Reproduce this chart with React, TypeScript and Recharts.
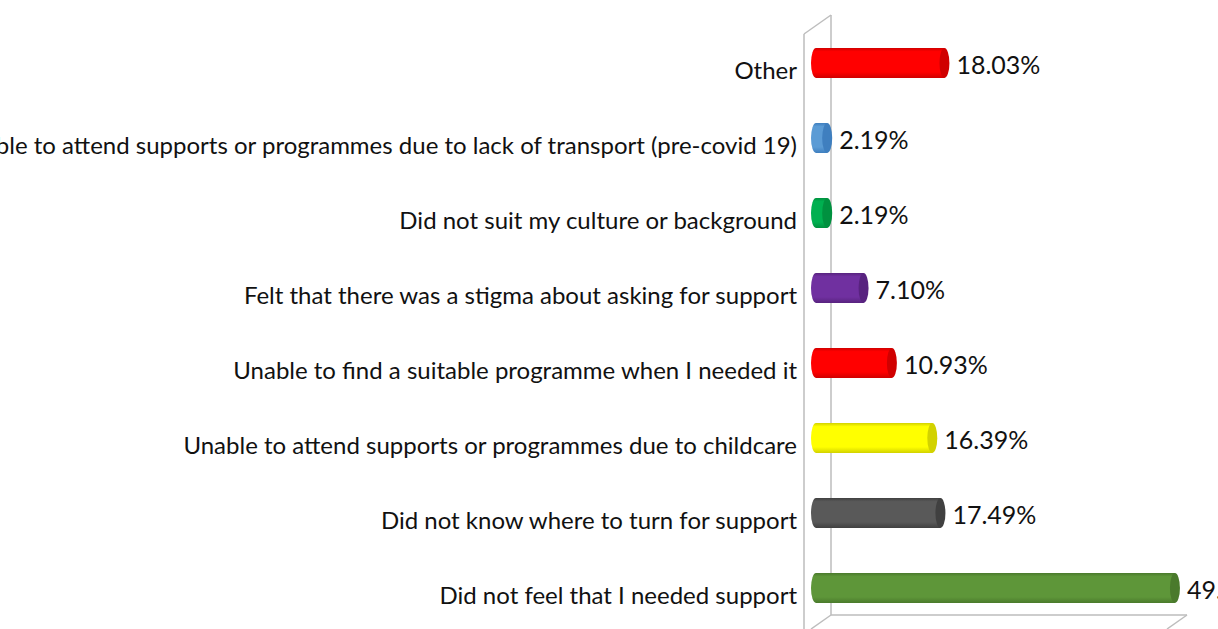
import React from 'react';
import { BarChart, Bar, XAxis, YAxis, Cell, LabelList } from 'recharts';

// Reasons (top to bottom) and share of respondents
const CATEGORIES = [
  'Other',
  'Unable to attend supports or programmes due to lack of transport (pre-covid 19)',
  'Did not suit my culture or background',
  'Felt that there was a stigma about asking for support',
  'Unable to find a suitable programme when I needed it',
  'Unable to attend supports or programmes due to childcare',
  'Did not know where to turn for support',
  'Did not feel that I needed support',
];
const VALUES = [18.03, 2.19, 2.19, 7.1, 10.93, 16.39, 17.49, 49.18];

// Colours for each bar (body and the darker end cap)
const COLORS = ['#ff0000', '#5b9bd5', '#00b050', '#7030a0', '#ff0000', '#ffff00', '#595959', '#5e9639'];
const CAP_COLORS = ['#d00000', '#3f7fbf', '#00913f', '#58237f', '#d00000', '#d2d200', '#404040', '#4a7a2c'];

const data = CATEGORIES.map((category, i) => ({ category, value: VALUES[i] }));

const W = 1218;
const H = 629;
const AXIS_W = 811;
const FONT = 'Lato, "Open Sans", sans-serif';

const Cylinder = (props: any) => {
  const { x, y, width, height, index } = props;
  if (width == null || height == null) return null;
  const rx = 5;
  const cy = y + height / 2;
  const right = x + width;
  const d = `M${x + rx},${y} L${right},${y} L${right},${y + height} L${x + rx},${y + height} A${rx},${height / 2} 0 0 1 ${x + rx},${y} Z`;
  return (
    <g>
      <path d={d} fill={`url(#cyl-${index})`} />
      <ellipse cx={right} cy={cy} rx={rx} ry={height / 2} fill={CAP_COLORS[index]} />
    </g>
  );
};

const CategoryTick = (props: any) => {
  const { y, payload } = props;
  return (
    <text x={AXIS_W - 14} y={y + 7} textAnchor="end" dominantBaseline="central" fontSize={24} fill="#111" fontFamily={FONT}>
      {payload.value}
    </text>
  );
};

const ValueLabel = (props: any) => {
  const { x, y, width, height, value } = props;
  return (
    <text x={x + width + 12} y={y + height / 2 + 1} dominantBaseline="central" fontSize={25} fill="#111" fontFamily={FONT}>
      {`${Number(value).toFixed(2)}%`}
    </text>
  );
};

// 3D wall / floor outline drawn behind the bars
const Frame = () => (
  <svg width={W} height={H} style={{ position: 'absolute', left: 0, top: 0 }}>
    <g stroke="#bdbdbd" strokeWidth={1.5} fill="none">
      <line x1={804} y1={34} x2={804} y2={H} />
      <line x1={804} y1={34} x2={831} y2={15} />
      <line x1={831} y1={15} x2={831} y2={615} />
      <line x1={831} y1={615} x2={1187} y2={615} />
      <line x1={831} y1={615} x2={811} y2={629} />
      <line x1={1187} y1={615} x2={1167} y2={629} />
    </g>
  </svg>
);

export default function App() {
  return (
    <div style={{ position: 'absolute', left: 0, top: 0, width: W, height: H, overflow: 'hidden', background: '#fff' }}>
      <Frame />
      <div style={{ position: 'absolute', left: 0, top: 0 }}>
        <BarChart
          width={W}
          height={H}
          data={data}
          layout="vertical"
          margin={{ top: 25, right: 37, bottom: 4, left: 0 }}
          barCategoryGap={0}
        >
          <defs>
            {COLORS.map((c, i) => (
              <linearGradient key={i} id={`cyl-${i}`} x1="0" y1="0" x2="0" y2="1">
                <stop offset="0%" stopColor={CAP_COLORS[i]} />
                <stop offset="12%" stopColor={c} />
                <stop offset="80%" stopColor={c} />
                <stop offset="100%" stopColor={CAP_COLORS[i]} />
              </linearGradient>
            ))}
          </defs>
          <XAxis type="number" domain={[0, 50]} hide />
          <YAxis
            type="category"
            dataKey="category"
            width={AXIS_W}
            axisLine={false}
            tickLine={false}
            interval={0}
            tick={<CategoryTick />}
          />
          <Bar dataKey="value" barSize={30} isAnimationActive={false} shape={<Cylinder />}>
            {data.map((_, i) => (
              <Cell key={i} fill={COLORS[i]} />
            ))}
            <LabelList dataKey="value" content={<ValueLabel />} />
          </Bar>
        </BarChart>
      </div>
    </div>
  );
}
